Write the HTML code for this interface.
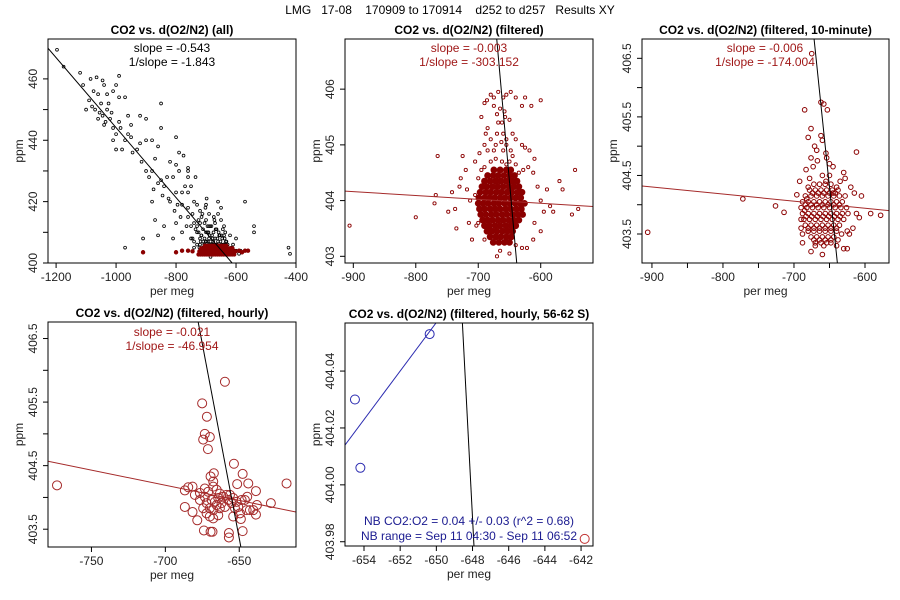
<!DOCTYPE html>
<html><head><meta charset="utf-8">
<style>
html,body{margin:0;padding:0;background:#fff;width:900px;height:600px;overflow:hidden;}
svg{display:block;font-family:"Liberation Sans",Arial,sans-serif;}
</style></head>
<body>
<svg id="chart" width="900" height="600" viewBox="0 0 900 600" xmlns="http://www.w3.org/2000/svg">
<rect width="900" height="600" fill="#fff"/>
<text x="450" y="14" font-size="12" text-anchor="middle" fill="#000" xml:space="preserve">LMG   17-08    170909 to 170914    d252 to d257   Results XY</text>
</svg>
<script>
// ---- Panel 1 data (all) ----
const p1BlackX = [-1197,-1175,-1120,-1110,-1085,-1065,-1045,-1040,-1000,-990,-1030,-1010,-1060,-1075,-1090,-1100,-1050,-1045,-1030,-1020,-1060,-1070,-1040,-1010,-1000,-990,-960,-950,-920,-900,-970,-990,-1010,-1000,-980,-970,-960,-950,-930,-920,-900,-880,-850,-850,-800,-860,-870,-900,-880,-850,-830,-810,-800,-790,-820,-840,-860,-820,-800,-780,-770,-760,-780,-760,-740,-730,-720,-700,-690,-660,-650,-570,-880,-870,-840,-800,-780,-760,-750,-740,-730,-720,-710,-700,-690,-680,-670,-660,-650,-640,-620,-600,-750,-740,-730,-720,-710,-700,-690,-680,-670,-660,-640,-630,-610,-700,-690,-710,-720,-740,-730,-715,-725,-705,-695,-685,-675,-665,-655,-645,-910,-860,-810,-970,-540,-540,-425,-420,-600,-620,-590,-760,-775,-790,-760,-735,-760,-750,-1080,-1055,-1025,-1035,-1015,-985,-945,-915,-890,-875,-845,-825,-805,-795,-785,-765,-745,-735,-715,-705,-695,-675,-665,-655,-645,-635,-625,-615,-605,-585,-705,-685,-675,-665,-655,-695,-725,-745,-712,-702,-698,-688,-682,-678,-672,-668,-662,-658,-652,-648,-642,-638,-632,-628,-722,-718,-708,-692,-676,-664,-654,-644,-634,-716,-706,-696,-686,-674,-666,-656,-646,-636,-700,-690,-680,-670,-660,-650,-640];
const p1BlackY = [469.5,464,462,458,460,460.5,459.5,458,458,461,455,456,455,456,453,450,452,448,450,447,447,450,445,444,442,446,448,445,448,447,454,454,440,437,437,440,442,441,437,439,440,440,452,444,441,438,434,430,430,427,428,428,432,430,433,425,426,420,423,423,425,423,419,418,420,419,417,419,416,420,418,420,420,414,412,413,410,415,412,413,410,413,411,410,412,409,408,407,406,409,409,408,408,407,406,408,405,407,405,406,405,404,406,405,406,414,408,407,406,405,412,415,414,413,410,407,410,406,405,404,408,409,408,405,412,410,405,403,404,404,403,430,435,436,431,428,428,425,451,449,452,446,449,444,436,433,428,424,422,421,417,419,415,412,416,411,409,408,407,406,405,405,404,406,404,405,404,404,403,402,403,411,409,412,410,408,416,418,421,409,412,408,414,411,408,410,407,409,406,408,407,406,405,407,405,410,407,406,409,411,407,409,406,405,412,415,411,409,408,410,407,406,405,413,416,414,412,411,410,408];
const p1RedX = [-725,-718,-711,-704,-697,-690,-683,-676,-669,-662,-655,-648,-641,-634,-627,-620,-613,-606,-722,-714,-706,-698,-690,-682,-674,-666,-658,-650,-642,-634,-626,-618,-610,-602,-716,-708,-700,-692,-684,-676,-668,-660,-652,-644,-636,-628,-620,-612,-704,-696,-688,-680,-672,-664,-656,-648,-640,-632,-910,-800,-780,-760,-745,-590,-580,-570,-560];
const p1RedY = [402.8,402.8,402.8,402.8,402.8,402.8,402.8,402.8,402.8,402.8,402.8,402.8,402.8,402.8,402.8,402.8,402.8,402.8,403.8,403.8,403.8,403.8,403.8,403.8,403.8,403.8,403.8,403.8,403.8,403.8,403.8,403.8,403.8,403.8,404.8,404.8,404.8,404.8,404.8,404.8,404.8,404.8,404.8,404.8,404.8,404.8,404.8,404.8,405.6,405.6,405.6,405.6,405.6,405.6,405.6,405.6,405.6,405.6,403.5,403.5,404,404,403.8,404,403.5,404,404];
// ---- Panel 2 data (filtered) ----
const p2CoreY = [404.55,404.45,404.35,404.25,404.15,404.05,403.95,403.85,403.75,403.65,403.55,403.45,403.35,403.25];
const p2CoreX = [
 [-675,-665,-655,-648],
 [-685,-676,-668,-659,-650,-642],
 [-690,-681,-672,-664,-655,-646,-638],
 [-694,-686,-677,-669,-660,-651,-643,-635],
 [-697,-688,-680,-671,-663,-654,-646,-637,-630],
 [-699,-690,-682,-674,-665,-657,-648,-640,-632],
 [-700,-692,-684,-675,-667,-658,-650,-641,-633,-626],
 [-698,-690,-681,-673,-665,-656,-648,-639,-631],
 [-696,-688,-679,-671,-662,-654,-645,-637,-629],
 [-693,-685,-677,-668,-660,-651,-643,-635],
 [-690,-682,-673,-665,-656,-648,-640],
 [-686,-678,-670,-661,-653,-645],
 [-681,-672,-664,-655,-647],
 [-676,-667,-658,-650]];
const p2X = [-906,-800,-770,-768,-765,-748,-742,-737,-730,-728,-725,-720,-718,-715,-713,-735,-710,-705,-700,-703,-690,-685,-680,-672,-660,-655,-650,-645,-635,-628,-620,-612,-605,-600,-595,-590,-585,-580,-570,-565,-545,-550,-540,-610,-600,-612,-622,-630,-640,-650,-665,-670,-690,-700,-690,-686,-680,-675,-668,-660,-655,-648,-640,-630,-625,-600,-615,-675,-665,-658,-670,-695,-688,-668,-662,-657,-650,-660,-670,-645,-640,-630,-625,-618,-610,-648,-672,-680,-690,-695,-675,-662,-655,-640,-655,-663,-685,-698,-705];
const p2Y = [403.55,403.7,403.95,404.1,404.8,403.8,404.15,403.85,404.25,404.4,404.8,404.55,404.2,403.6,404.0,403.5,403.3,404.1,404.4,403.55,405.0,405.3,405.1,405.0,404.9,405.0,404.7,404.8,404.5,404.55,404.6,404.5,404.25,404.0,403.8,404.2,403.9,403.8,404.35,404.2,404.55,403.75,403.85,403.6,403.45,403.3,403.15,403.15,403.2,403.05,403.1,403.0,403.3,403.6,405.75,405.8,405.9,405.85,405.95,405.85,405.9,405.95,405.85,405.7,405.85,405.8,405.7,405.7,405.65,405.6,405.55,405.5,405.2,405.4,405.4,405.5,405.45,405.2,405.2,405.2,405.1,405.0,404.95,404.9,404.75,404.9,404.75,404.7,404.6,404.55,404.9,404.7,404.65,404.65,405.1,405.05,404.9,404.85,404.7];
// ---- Panel 3 data (10-minute) ----
const p3CoreY = [404.35,404.25,404.15,404.05,403.95,403.85,403.75,403.65,403.55,403.45,403.35,404.2,404.0,403.8,403.6,403.4];
const p3CoreX = [
 [-672,-664,-656,-648],
 [-678,-670,-662,-654,-646,-638],
 [-684,-676,-668,-660,-652,-644,-636,-628],
 [-688,-680,-672,-664,-656,-648,-640,-632],
 [-690,-682,-674,-666,-658,-650,-642,-634,-626],
 [-688,-680,-672,-664,-656,-648,-640,-632,-624],
 [-686,-678,-670,-662,-654,-646,-638,-630],
 [-684,-676,-668,-660,-652,-644,-636],
 [-680,-672,-664,-656,-648,-640],
 [-676,-668,-660,-652,-644],
 [-670,-662,-654],
 [-674,-666,-658,-650,-642],
 [-684,-676,-668,-660,-652,-644,-636],
 [-683,-675,-667,-659,-651,-643,-635],
 [-680,-672,-664,-656,-648,-640],
 [-672,-664,-656,-648]];
const p3X = [-906,-772,-726,-714,-696,-690,-688,-688,-675,-685,-662,-658,-653,-676,-680,-662,-671,-668,-660,-655,-676,-667,-673,-654,-650,-645,-612,-630,-628,-635,-620,-615,-605,-612,-608,-592,-578,-617,-622,-625,-633,-638,-640,-630,-625,-648,-658,-660,-676,-670,-680,-690,-685,-682,-680,-678,-683,-692,-660,-650,-655,-640,-645];
const p3Y = [403.53,404.1,403.98,403.87,404.17,403.6,403.35,403.5,406.58,405.62,405.75,405.72,405.62,405.3,405.15,405.18,405.0,404.93,405.1,404.88,404.8,404.75,404.65,404.8,404.7,404.65,404.9,404.55,404.45,404.4,404.3,404.2,404.15,403.85,403.78,403.85,403.82,403.6,403.5,403.55,403.5,403.4,403.3,403.25,403.25,403.35,403.3,403.15,403.2,403.3,403.55,403.75,403.9,404.1,404.3,404.45,404.6,404.4,404.5,404.5,404.4,404.3,404.2];
// ---- Panel 4 data (hourly) ----
const p4X = [-773.3,-659.7,-675.1,-671.9,-673.3,-669.9,-674.4,-671.2,-653.6,-667.2,-647.7,-618,-686.8,-684.5,-681.6,-680,-676.6,-686.8,-681.6,-678.4,-673.9,-669.4,-668.1,-657,-657,-647.7,-648.9,-638.7,-638.7,-638,-628.6,-643.9,-651.4,-673.3,-671,-667.6,-665.3,-663.1,-660.8,-658.6,-668.7,-666.5,-664.2,-662,-672.1,-669.9,-667.6,-665.3,-663.1,-659.7,-657.4,-656.3,-654.1,-655.2,-652.9,-650.7,-649.5,-654.1,-651.8,-648.4,-646.2,-644.6,-642.8,-640.5,-645,-672.1,-669.9,-667.6,-664.2,-674.4,-676.6,-673.3,-667.6,-669.4];
const p4Y = [404.19,405.82,405.48,405.27,405.0,404.95,404.91,404.76,404.53,404.38,404.37,404.22,404.11,404.16,404.17,404.04,404.07,403.85,403.77,403.64,403.48,403.46,403.46,403.44,403.37,403.47,403.66,404.1,403.73,403.88,403.91,404.22,404.21,404.14,404.09,404.17,404.12,404.06,404.01,404.04,403.96,403.93,403.99,403.91,403.91,403.83,403.8,403.88,403.83,403.85,403.96,404.04,403.99,403.91,403.83,403.85,403.75,403.7,403.93,403.96,403.96,404.01,403.8,403.8,403.8,403.75,403.7,403.67,403.72,403.83,403.96,404.01,404.25,404.33];
// ---- Panel 5 data (hourly, 56-62 S) ----
const p5BlueX = [-650.37,-654.5,-654.2];
const p5BlueY = [404.053,404.030,404.006];
const p5RedX = [-641.8];
const p5RedY = [403.981];
// fit lines: [x0, y0, slope]
const p1Fit = [-613, 400, -0.11401];
const p2Red = [-913.3, 404.17, -0.000693];
const p2Black = [-670.4, 406.9, -0.125625];
const p3Red = [-914, 404.32, -0.0012076];
const p3Black = [-671.7, 406.83, -0.11662];
const p4Red = [-779.4, 404.57, -0.0047676];
const p4Black = [-677.8, 406.76, -0.12249];
const p5Blue = [-655.05, 404.014, 0.008529];
const p5Black = [-648.56, 404.0569, -0.1225];
// ticks
const p1XTicks = [-1200,-1000,-800,-600,-400];
const p1YTicks = [400,420,440,460];
const p1YMinor = [410,430,450];
const p2XTicks = [-900,-800,-700,-600];
const p2YTicks = [403,404,405,406];
const p3XTicks = [-900,-800,-700,-600];
const p3XMinor = [-850,-750,-650];
const p3YTicks = [403.5,404.5,405.5,406.5];
const p3YMinor = [404,405,406];
const p4XTicks = [-750,-700,-650];
const p4YTicks = [403.5,404.5,405.5,406.5];
const p4YMinor = [404,405,406];
const p5XTicks = [-654,-652,-650,-648,-646,-644,-642];
const p5YTicks = [403.98,404.00,404.02,404.04];
const p5YLabels = ["403.98","404.00","404.02","404.04"];

const NS = "http://www.w3.org/2000/svg";
const svg = document.getElementById('chart');
const RED = "#8b0000", TRED = "#a01818", BLUE = "#2a2ab0", TBLUE = "#1a1a90";
function mk(tag, attrs, parent){
  const e = document.createElementNS(NS, tag);
  for (const k in attrs) e.setAttribute(k, attrs[k]);
  (parent||svg).appendChild(e);
  return e;
}
let clipN = 0;
function panel(name, box, xlim, ylim, title){
  const [L,T,R,B] = box;
  const g = mk('g', {});
  
  
  const sx = v => L + (v - xlim[0]) / (xlim[1] - xlim[0]) * (R - L);
  const sy = v => B - (v - ylim[0]) / (ylim[1] - ylim[0]) * (B - T);
  const id = 'clip' + (clipN++);
  const cp = mk('clipPath', {id: id}, g);
  mk('rect', {x: L, y: T, width: R - L, height: B - T}, cp);
  const plot = mk('g', {'clip-path': 'url(#' + id + ')'}, g);
  
  
  const t = mk('text', {x: (L + R) / 2, y: T - 5, 'font-size': 12, 'font-weight': 'bold', 'text-anchor': 'middle'}, g);
  t.textContent = title;
  
  
  const fr = mk('rect', {x: L, y: T, width: R - L, height: B - T, fill: 'none', stroke: '#000', 'stroke-width': 1}, g);
  
  
  const xl = mk('text', {x: (L + R) / 2, y: B + 32, 'font-size': 12, 'text-anchor': 'middle', fill: '#222'}, g);
  xl.textContent = 'per meg';
  
  
  const yx = L - 29, yy = (T + B) / 2;
  const yl = mk('text', {x: yx, y: yy, 'font-size': 12, 'text-anchor': 'middle', fill: '#222', transform: 'rotate(-90 ' + yx + ' ' + yy + ')', dy: 4}, g);
  yl.textContent = 'ppm';
  
  
  return {g, plot, sx, sy, L, T, R, B, xlim, ylim};
}
function xTicks(P, ticks, labels, minor){
  ticks.forEach((v, i) => {
    const x = P.sx(v);
    const tk = mk('line', {x1: x, x2: x, y1: P.B, y2: P.B + 5, stroke: '#000'}, P.g);
    
    
    const tx = mk('text', {x: x, y: P.B + 18, 'font-size': 12, 'text-anchor': 'middle', fill: '#222'}, P.g);
    tx.textContent = labels ? labels[i] : String(v);
    
    
  });
  (minor || []).forEach(v => {
    const x = P.sx(v);
    const tk = mk('line', {x1: x, x2: x, y1: P.B, y2: P.B + 5, stroke: '#000'}, P.g);
    
    
  });
}
function yTicks(P, ticks, labels, minor){
  ticks.forEach((v, i) => {
    const y = P.sy(v);
    const tk = mk('line', {x1: P.L - 5, x2: P.L, y1: y, y2: y, stroke: '#000'}, P.g);
    
    
    const x = P.L - 11;
    const tx = mk('text', {x: x, y: y, 'font-size': 12, 'text-anchor': 'middle', fill: '#222', transform: 'rotate(-90 ' + x + ' ' + y + ')'}, P.g);
    tx.textContent = labels ? labels[i] : String(v);
    
    
  });
  (minor || []).forEach(v => {
    const y = P.sy(v);
    const tk = mk('line', {x1: P.L - 5, x2: P.L, y1: y, y2: y, stroke: '#000'}, P.g);
    
    
  });
}
function pts(P, xs, ys, r, stroke, fill, sw, nm){
  xs.forEach((v, i) => {
    const c = mk('circle', {cx: P.sx(v), cy: P.sy(ys[i]), r: r, stroke: stroke, fill: fill, 'stroke-width': sw}, P.plot);
    
    
  });
}
function rows(P, ys, xrows, r, stroke, fill, sw, nm){
  ys.forEach((y, j) => {
    xrows[j].forEach(x => {
      const c = mk('circle', {cx: P.sx(x), cy: P.sy(y), r: r, stroke: stroke, fill: fill, 'stroke-width': sw}, P.plot);
      
      
    });
  });
}
function fit(P, f, color, nm){
  const [x0, y0, s] = f;
  const [xa, xb] = P.xlim, [ya, yb] = P.ylim;
  const f1 = x => y0 + s * (x - x0);
  const inv = y => x0 + (y - y0) / s;
  const pts2 = [];
  [xa, xb].forEach(x => { const y = f1(x); if (y >= ya && y <= yb) pts2.push([x, y]); });
  if (s !== 0) [ya, yb].forEach(y => { const x = inv(y); if (x > xa && x < xb) pts2.push([x, y]); });
  if (pts2.length < 2) return;
  const ln = mk('line', {x1: P.sx(pts2[0][0]), y1: P.sy(pts2[0][1]), x2: P.sx(pts2[1][0]), y2: P.sy(pts2[1][1]), stroke: color, 'stroke-width': 1}, P.plot);
  
  
}
function note(P, x, y, txt, color, nm){
  const t = mk('text', {x: x, y: y, 'font-size': 12, 'text-anchor': 'middle', fill: color}, P.g);
  t.textContent = txt;
  
  
}

// Panel 1
const P1 = panel('panel-all', [48, 39, 296, 263], [-1227, -400], [400, 473], 'CO2 vs. d(O2/N2) (all)');
xTicks(P1, p1XTicks, null); yTicks(P1, p1YTicks, null, p1YMinor);
pts(P1, p1BlackX, p1BlackY, 1.4, '#000', 'none', 0.8, 'point-all');
pts(P1, p1RedX, p1RedY, 1.8, RED, RED, 0.8, 'point-filtered');
fit(P1, p1Fit, '#000', 'fit-line');
note(P1, 172, 52, 'slope = -0.543', '#000', 'slope-label');
note(P1, 172, 66, '1/slope = -1.843', '#000', 'inverse-slope-label');

// Panel 2
const P2 = panel('panel-filtered', [345, 39, 593, 263], [-913.3, -516.3], [402.88, 406.9], 'CO2 vs. d(O2/N2) (filtered)');
xTicks(P2, p2XTicks, null); yTicks(P2, p2YTicks, null);
rows(P2, p2CoreY, p2CoreX, 2.9, RED, RED, 1, 'point-core');
pts(P2, p2X, p2Y, 1.6, RED, 'none', 0.9, 'point-filtered');
fit(P2, p2Red, '#a52a2a', 'fit-line-red');
fit(P2, p2Black, '#000', 'fit-line-black');
note(P2, 469, 52, 'slope = -0.003', TRED, 'slope-label');
note(P2, 469, 66, '1/slope = -303.152', TRED, 'inverse-slope-label');

// Panel 3
const P3 = panel('panel-10-minute', [642, 39, 889, 263], [-914, -566.2], [403.005, 406.83], 'CO2 vs. d(O2/N2) (filtered, 10-minute)');
xTicks(P3, p3XTicks, null, p3XMinor); yTicks(P3, p3YTicks, null, p3YMinor);
rows(P3, p3CoreY, p3CoreX, 2.3, RED, 'none', 1, 'point-core');
pts(P3, p3X, p3Y, 2.3, RED, 'none', 1, 'point-10-minute');
fit(P3, p3Red, '#a52a2a', 'fit-line-red');
fit(P3, p3Black, '#000', 'fit-line-black');
note(P3, 765, 52, 'slope = -0.006', TRED, 'slope-label');
note(P3, 765, 66, '1/slope = -174.004', TRED, 'inverse-slope-label');

// Panel 4
const P4 = panel('panel-hourly', [48, 322, 296, 547], [-779.4, -611.6], [403.22, 406.76], 'CO2 vs. d(O2/N2) (filtered, hourly)');
xTicks(P4, p4XTicks, null); yTicks(P4, p4YTicks, null, p4YMinor);
pts(P4, p4X, p4Y, 4.5, '#a52a2a', 'none', 1, 'point-hourly');
fit(P4, p4Red, '#a52a2a', 'fit-line-red');
fit(P4, p4Black, '#000', 'fit-line-black');
note(P4, 172, 336, 'slope = -0.021', TRED, 'slope-label');
note(P4, 172, 350, '1/slope = -46.954', TRED, 'inverse-slope-label');

// Panel 5
const P5 = panel('panel-56-62S', [345, 323, 593, 546], [-655.05, -641.34], [403.9785, 404.0569], 'CO2 vs. d(O2/N2) (filtered, hourly, 56-62 S)');
xTicks(P5, p5XTicks, null); yTicks(P5, p5YTicks, p5YLabels);
fit(P5, p5Blue, BLUE, 'fit-line-blue');
fit(P5, p5Black, '#000', 'fit-line-black');
pts(P5, p5BlueX, p5BlueY, 4.5, BLUE, 'none', 1, 'point-nb');
pts(P5, p5RedX, p5RedY, 4.5, '#c03030', 'none', 1, 'point-other');
note(P5, 469, 525, 'NB CO2:O2 = 0.04 +/- 0.03 (r^2 = 0.68)', TBLUE, 'nb-ratio-label');
note(P5, 469, 540, 'NB range = Sep 11 04:30 - Sep 11 06:52', TBLUE, 'nb-range-label');
</script>
</body></html>
